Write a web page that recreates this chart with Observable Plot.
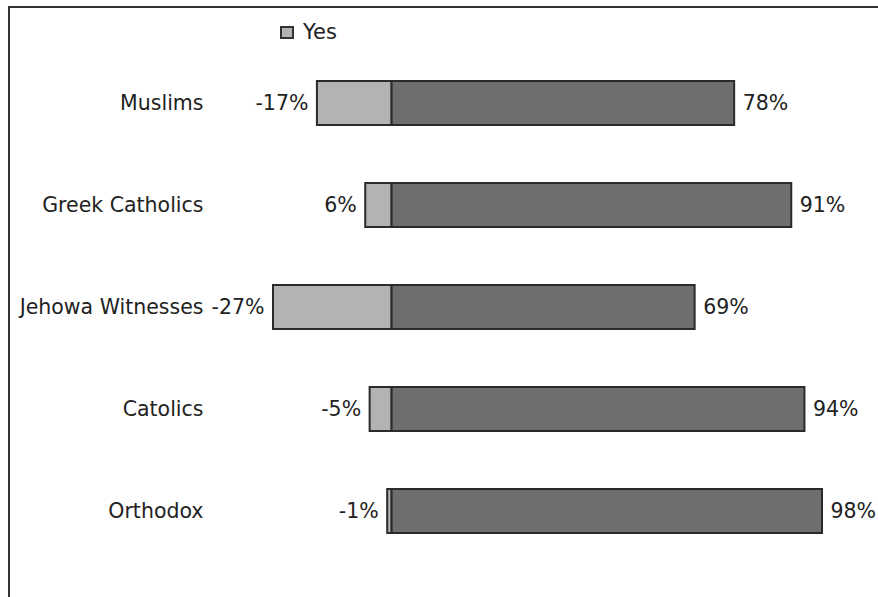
<!DOCTYPE html>
<html>
<head>
<meta charset="utf-8">
<script src="https://cdn.jsdelivr.net/npm/d3@7"></script>
<script src="https://cdn.jsdelivr.net/npm/@observablehq/plot@0.6"></script>
<style>
  html, body { margin: 0; padding: 0; background: #fff; }
  body { width: 878px; height: 597px; overflow: hidden; font-family: "DejaVu Sans", sans-serif; color: #222; }
  #frame { position: absolute; left: 8px; top: 6px; width: 870px; height: 591px; border-left: 2px solid #333; border-top: 2px solid #333; box-sizing: border-box; }
  #legend { position: absolute; left: 270px; top: 11px; height: 26px; display: flex; align-items: center; font-size: 21px; }
  #legend .sw { width: 14px; height: 13px; box-sizing: border-box; border: 2px solid #333; background: #b3b3b3; margin-right: 9px; }
  #chart { position: absolute; left: 0; top: 47px; }
</style>
</head>
<body>
<div id="frame">
  <div id="legend"><div class="sw"></div><span>Yes</span></div>
  <div id="chart"></div>
</div>
<script>
const categories = ["Muslims", "Greek Catholics", "Jehowa Witnesses", "Catolics", "Orthodox"];
const yesValues = [-17, -6, -27, -5, -1];
const noValues = [78, 91, 69, 94, 98];
const yesLabels = ["-17%", "6%", "-27%", "-5%", "-1%"];
const noLabels = ["78%", "91%", "69%", "94%", "98%"];

const rows = categories.map((c, i) => ({
  cat: c, neg: yesValues[i], pos: noValues[i], negLabel: yesLabels[i], posLabel: noLabels[i]
}));

const FS = 20.5;
const plot = Plot.plot({
  width: 868,
  height: 542,
  marginTop: 0, marginBottom: 0, marginLeft: 0, marginRight: 0,
  style: { fontFamily: "DejaVu Sans, sans-serif", fontSize: FS + "px", color: "#222", background: "white" },
  x: { domain: [d3.min(yesValues), d3.max(noValues)], range: [263, 812], axis: null },
  y: { domain: categories, range: [25, 478], paddingInner: 0.57, paddingOuter: 0, axis: null },
  marks: [
    Plot.barX(rows, { x1: 0, x2: "neg", y: "cat", fill: "#b3b3b3", stroke: "#2a2a2a", strokeWidth: 2 }),
    Plot.barX(rows, { x1: 0, x2: "pos", y: "cat", fill: "#6e6e6e", stroke: "#2a2a2a", strokeWidth: 2 }),
    Plot.text(rows, { x: "neg", y: "cat", text: "negLabel", textAnchor: "end", dx: -9, fontSize: FS, fill: "#222" }),
    Plot.text(rows, { x: "pos", y: "cat", text: "posLabel", textAnchor: "start", dx: 8, fontSize: FS, fill: "#222" }),
    Plot.text(rows, { frameAnchor: "left", y: "cat", text: "cat", textAnchor: "end", dx: 193, fontSize: FS, fill: "#222" })
  ]
});
document.getElementById("chart").appendChild(plot);

// keep category labels from colliding with the negative-value labels
const groups = plot.querySelectorAll('g[aria-label="text"]');
if (groups.length >= 3) {
  const negTexts = groups[0].querySelectorAll("text");
  const catTexts = groups[2].querySelectorAll("text");
  catTexts.forEach((t, i) => {
    if (!negTexts[i]) return;
    const nb = negTexts[i].getBoundingClientRect();
    const cb = t.getBoundingClientRect();
    const limit = nb.left - 6;
    if (cb.right > limit) {
      const shift = cb.right - limit;
      const cur = t.getAttribute("transform") || "";
      t.setAttribute("transform", `translate(${-shift},0) ` + cur);
    }
  });
}
</script>
</body>
</html>
